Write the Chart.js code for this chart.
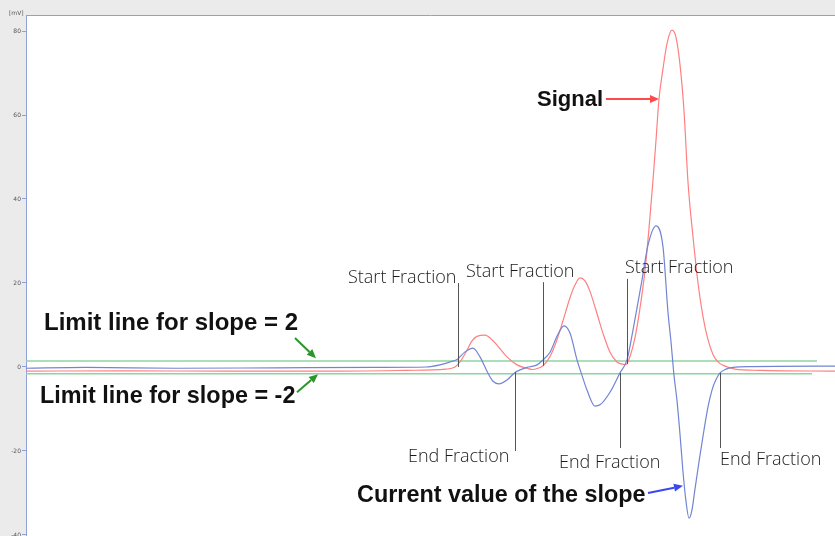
<!DOCTYPE html>
<html>
<head>
<meta charset="utf-8">
<script src="https://cdn.jsdelivr.net/npm/chart.js@4"></script>
<style>
  html, body { margin: 0; padding: 0; background: #ebebeb; }
  #chartCanvas { display: block; }
</style>
</head>
<body>
<canvas id="chartCanvas" width="835" height="536" style="width:835px;height:536px"></canvas>
<script>
// time axis (arbitrary units) and values in mV
const signalTime = [0, 100, 200, 300, 380, 420, 429, 434, 441, 446, 451, 459, 466, 471, 481, 491, 501, 506, 512, 517,
  524, 531, 537, 544, 549, 554, 559, 564, 570, 577, 584, 591, 596, 600, 604, 609, 614, 619, 623, 627,
  630, 633, 637, 641, 646, 650, 654, 658, 662, 667, 672, 677, 682, 687, 692, 699, 709, 734, 809];
const signalValue = [-1.0, -0.9, -1.0, -1.0, -0.8, -0.5, 0, 1.2, 4.0, 6.2, 7.3, 7.6, 6.5, 5.2, 2.4, 0.5, -0.3, -0.6, -0.3, 0.3,
  2.5, 6.5, 11, 16.5, 19.5, 21.2, 20.5, 18, 13.5, 8, 3.5, 1.2, 0.7, 0.6, 2.5, 7, 14, 23, 33, 44.5,
  54, 63.8, 71, 77, 80.2, 78.5, 72, 61, 44, 31, 20, 12, 6.5, 3, 1.2, 0.2, -0.5, -0.8, -1.0];

const slopeTime = [0, 60, 150, 250, 350, 400, 414, 424, 431, 439, 447, 454, 461, 467, 473, 481, 489, 496, 501, 511,
  517, 524, 531, 538, 544, 551, 556, 561, 569, 574, 584, 594, 601, 607, 616, 622, 630, 637, 642, 645,
  648, 651, 654, 657, 660, 663, 666, 669, 674, 678, 682, 686, 690, 694, 700, 707, 724, 809];
const slopeValue = [-0.3, -0.1, -0.3, -0.2, -0.1, 0, 0.5, 1.2, 1.8, 3.6, 4.5, 2.4, -1.0, -3.4, -4.0, -3.1, -1.3, -0.5, -0.1, 0.5,
  1.7, 3.5, 7.3, 9.8, 8.1, 1.7, -2, -5.5, -9.3, -9, -6, -1.4, 1.7, 8.8, 20.7, 29, 33.6, 28.6, 13, 6,
  -2, -8, -16, -25, -32, -36, -34, -29, -21, -15, -9.5, -5.5, -3, -1.4, -0.5, -0.1, 0.1, 0.2];

const limitHigh = 1.4;
const limitLow = -1.6;
const limitHighEnd = 791;
const limitLowEnd = 786;

const yTicks = [-40, -20, 0, 20, 40, 60, 80];

// fraction markers: x position, line top and bottom (mV)
const startX = [432, 517, 601];
const startTop = [20, 20.2, 21];
const startBottom = [0, 0.3, 0.7];
const endX = [489, 594, 694];
const endTop = [-1.2, -1.4, -1.4];
const endBottom = [-20, -19.3, -19.3];

const startLabelX = [322, 440, 599];
const startLabelY = [21.2, 22.6, 23.6];
const endLabelX = [382, 533, 694];
const endLabelY = [-21.4, -22.9, -22.1];

const axisBlue = "#8e9fd9";

function toPoints(xs, ys) {
  return xs.map((x, i) => ({ x: x, y: ys[i] }));
}

const notes = [
  { text: "Limit line for slope = 2", x: 18, y: 10.5, size: 24 },
  { text: "Limit line for slope = -2", x: 14, y: -7.1, size: 23.4 },
  { text: "Signal", x: 511, y: 63.6, size: 22 },
  { text: "Current value of the slope", x: 331, y: -30.7, size: 23.4 },
];

const arrows = [
  { from: [269, 6.9], to: [290, 2.1], color: "#2a962a" },
  { from: [271, -6.0], to: [292, -1.7], color: "#2a962a" },
  { from: [580, 63.8], to: [633, 63.8], color: "#ff4a4a" },
  { from: [622, -30], to: [657, -28.3], color: "#3b48f0" },
];

const backdrop = {
  id: "backdrop",
  beforeDraw(chart) {
    const { ctx, chartArea } = chart;
    ctx.save();
    ctx.fillStyle = "#ebebeb";
    ctx.fillRect(0, 0, chart.width, chart.height);
    ctx.fillStyle = "#ffffff";
    ctx.fillRect(chartArea.left, chartArea.top, chartArea.right - chartArea.left, chartArea.bottom - chartArea.top);
    ctx.strokeStyle = axisBlue;
    ctx.lineWidth = 1;
    ctx.beginPath();
    ctx.moveTo(chartArea.left, chartArea.top + 0.5);
    ctx.lineTo(chartArea.right, chartArea.top + 0.5);
    ctx.stroke();
    ctx.fillStyle = "#555";
    ctx.font = "6px 'DejaVu Sans'";
    ctx.textBaseline = "middle";
    ctx.fillText("[mV]", 9, 13);
    ctx.restore();
  },
};

function drawArrow(ctx, x1, y1, x2, y2, color) {
  const ang = Math.atan2(y2 - y1, x2 - x1);
  const head = 9;
  ctx.strokeStyle = color;
  ctx.fillStyle = color;
  ctx.lineWidth = 2;
  ctx.beginPath();
  ctx.moveTo(x1, y1);
  ctx.lineTo(x2 - Math.cos(ang) * head, y2 - Math.sin(ang) * head);
  ctx.stroke();
  ctx.beginPath();
  ctx.moveTo(x2, y2);
  ctx.lineTo(x2 - head * Math.cos(ang) + 4 * Math.sin(ang), y2 - head * Math.sin(ang) - 4 * Math.cos(ang));
  ctx.lineTo(x2 - head * Math.cos(ang) - 4 * Math.sin(ang), y2 - head * Math.sin(ang) + 4 * Math.cos(ang));
  ctx.closePath();
  ctx.fill();
}

const annotations = {
  id: "annotations",
  afterDatasetsDraw(chart) {
    const ctx = chart.ctx;
    const xs = chart.scales.x;
    const ys = chart.scales.y;
    ctx.save();

    // fraction marker lines
    ctx.strokeStyle = "#555";
    ctx.lineWidth = 1;
    const marker = (x, top, bottom) => {
      const px = Math.round(xs.getPixelForValue(x)) + 0.5;
      ctx.beginPath();
      ctx.moveTo(px, ys.getPixelForValue(top));
      ctx.lineTo(px, ys.getPixelForValue(bottom));
      ctx.stroke();
    };
    startX.forEach((x, i) => marker(x, startTop[i], startBottom[i]));
    endX.forEach((x, i) => marker(x, endTop[i], endBottom[i]));

    ctx.fillStyle = "#1a1a1a";
    ctx.textBaseline = "middle";
    ctx.font = "300 18px 'Open Sans'";
    startLabelX.forEach((x, i) => {
      ctx.fillText("Start Fraction", xs.getPixelForValue(x), ys.getPixelForValue(startLabelY[i]));
    });
    endLabelX.forEach((x, i) => {
      ctx.fillText("End Fraction", xs.getPixelForValue(x), ys.getPixelForValue(endLabelY[i]));
    });

    ctx.fillStyle = "#111";
    notes.forEach((n) => {
      ctx.font = "bold " + n.size + "px 'Liberation Sans'";
      ctx.fillText(n.text, xs.getPixelForValue(n.x), ys.getPixelForValue(n.y));
    });

    arrows.forEach((a) => {
      drawArrow(ctx,
        xs.getPixelForValue(a.from[0]), ys.getPixelForValue(a.from[1]),
        xs.getPixelForValue(a.to[0]), ys.getPixelForValue(a.to[1]), a.color);
    });
    ctx.restore();
  },
};

const ctx = document.getElementById("chartCanvas").getContext("2d");

window.myChart = new Chart(ctx, {
  type: "line",
  data: {
    datasets: [
      {
        label: "Slope",
        data: toPoints(slopeTime, slopeValue),
        borderColor: "#7285d2",
        borderWidth: 1.2,
        pointRadius: 0,
        cubicInterpolationMode: "monotone",
      },
      {
        label: "Signal",
        data: toPoints(signalTime, signalValue),
        borderColor: "#ff8080",
        borderWidth: 1.2,
        pointRadius: 0,
        cubicInterpolationMode: "monotone",
      },
      {
        label: "Limit +",
        data: [{ x: 0, y: limitHigh }, { x: limitHighEnd, y: limitHigh }],
        borderColor: "#8fd49f",
        borderWidth: 1.5,
        pointRadius: 0,
      },
      {
        label: "Limit -",
        data: [{ x: 0, y: limitLow }, { x: limitLowEnd, y: limitLow }],
        borderColor: "#8fd49f",
        borderWidth: 1.5,
        pointRadius: 0,
      },
    ],
  },
  options: {
    responsive: false,
    animation: false,
    layout: { padding: { top: 15, left: 0, right: 0, bottom: 0 } },
    plugins: {
      legend: { display: false },
      tooltip: { enabled: false },
    },
    scales: {
      x: {
        type: "linear",
        display: false,
        min: 0,
        max: 809,
      },
      y: {
        type: "linear",
        min: -40.24,
        max: 83.81,
        afterBuildTicks: (scale) => {
          scale.ticks = yTicks.map((v) => ({ value: v }));
        },
        afterFit: (scale) => {
          scale.width = 26;
          scale.paddingTop = 0;
          scale.paddingBottom = 0;
        },
        border: { color: axisBlue, width: 1 },
        grid: { drawOnChartArea: false, drawTicks: true, tickLength: 4, color: axisBlue },
        ticks: {
          padding: 1,
          color: "#555",
          font: { size: 6, family: "DejaVu Sans" },
        },
      },
    },
  },
  plugins: [backdrop, annotations],
});
</script>
</body>
</html>
